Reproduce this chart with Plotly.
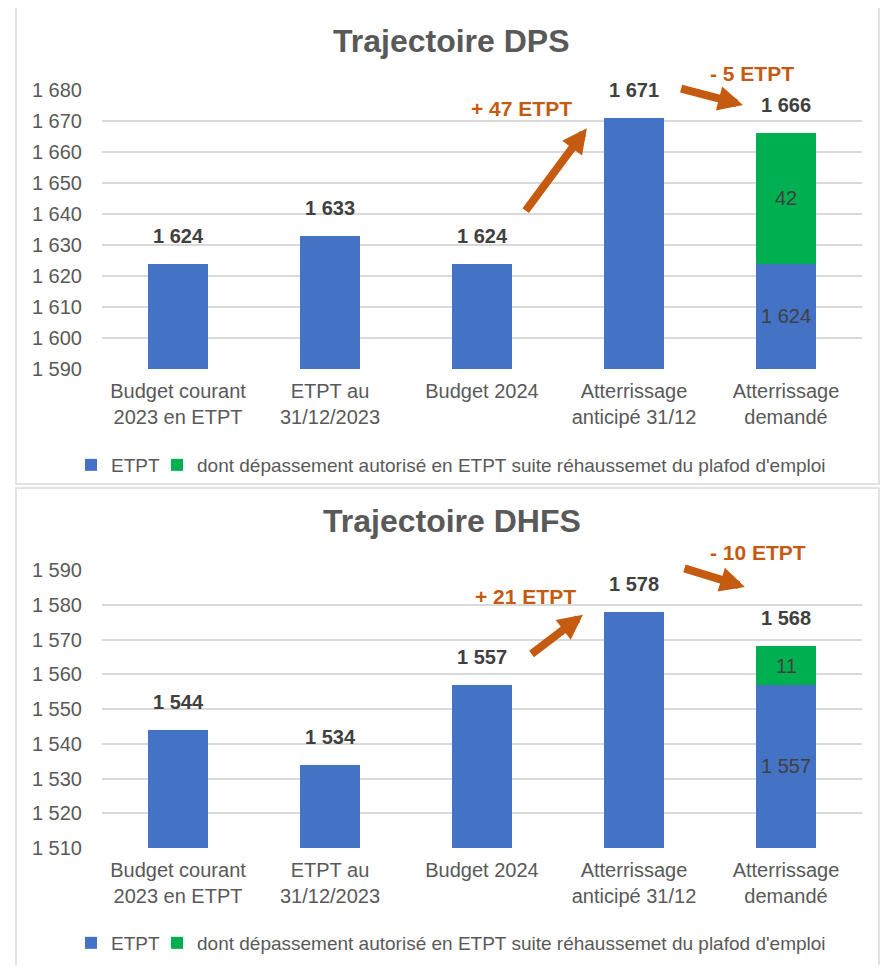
import plotly.graph_objects as go

# ---------------- data ----------------
categories = ["Budget courant<br>2023 en ETPT", "ETPT au<br>31/12/2023", "Budget 2024",
              "Atterrissage<br>anticipé 31/12", "Atterrissage<br>demandé"]
series_names = ["ETPT", "dont dépassement autorisé en ETPT suite réhaussemet du plafod d'emploi"]

dps_title = "Trajectoire DPS"
dps_etpt = [1624, 1633, 1624, 1671, 1624]
dps_extra = [None, None, None, None, 42]
dps_range = [1590, 1680]

dhfs_title = "Trajectoire DHFS"
dhfs_etpt = [1544, 1534, 1557, 1578, 1557]
dhfs_extra = [None, None, None, None, 11]
dhfs_range = [1510, 1590]

# ---------------- style ----------------
PAGE_OFF = 8          # default body margin of the page
W, H = 888 - 2 * PAGE_OFF, 973 - 2 * PAGE_OFF
BLUE = "#4472C4"
GREEN = "#00B050"
ORANGE = "#C55A11"
GRAY = "#595959"
DARK = "#404040"
GRID = "#D9D9D9"
FONT = "Liberation Sans, Arial, sans-serif"


def fy(px):
    return 1 - (px - PAGE_OFF) / H


def fx(px):
    return (px - PAGE_OFF) / W


def fmt(v):
    return f"{v:,}".replace(",", " ")


x_dom = [fx(102), fx(862)]
panels = [
    dict(title=dps_title, etpt=dps_etpt, extra=dps_extra, rng=dps_range,
         dom=[fy(369), fy(90)], title_y=fy(41), legend_y=fy(465),
         xa="x", ya="y", legend="legend",
         arrows=[((2.28, 1640.6), (2.69, 1667.7)), ((3.30, 1680.6), (3.717, 1675.2))],
         texts=[(2.26, 1673.9), (3.776, 1685.2)],
         box=(16, 6, 879, 484)),
    dict(title=dhfs_title, etpt=dhfs_etpt, extra=dhfs_extra, rng=dhfs_range,
         dom=[fy(848), fy(570)], title_y=fy(521), legend_y=fy(943),
         xa="x2", ya="y2", legend="legend2",
         arrows=[((2.316, 1565.5), (2.664, 1577.1)), ((3.322, 1590.6), (3.73, 1585.1))],
         texts=[(2.283, 1582.5), (3.816, 1594.9)],
         box=(16, 488, 879, 972)),
]


def to_paper_x(idx):
    return x_dom[0] + (idx + 0.5) / len(categories) * (x_dom[1] - x_dom[0])


def to_paper_y(p, v):
    d0, d1 = p["dom"]
    r0, r1 = p["rng"]
    return d0 + (v - r0) / (r1 - r0) * (d1 - d0)


fig = go.Figure()
annotations = []
shapes = []

for p in panels:
    fig.add_trace(go.Bar(x=categories, y=p["etpt"], name=series_names[0],
                         marker=dict(color=BLUE, line=dict(width=0)), legendwidth=41,
                         xaxis=p["xa"], yaxis=p["ya"], legend=p["legend"], hoverinfo="skip"))
    fig.add_trace(go.Bar(x=categories, y=p["extra"], name=series_names[1],
                         marker=dict(color=GREEN, line=dict(width=0)),
                         xaxis=p["xa"], yaxis=p["ya"], legend=p["legend"], hoverinfo="skip"))

    totals = [e + (x or 0) for e, x in zip(p["etpt"], p["extra"])]
    # total labels above bars
    for c, t in zip(categories, totals):
        annotations.append(dict(x=c, y=t, xref=p["xa"], yref=p["ya"], text=f"<b>{fmt(t)}</b>",
                                showarrow=False, yshift=28, xanchor="center", yanchor="middle",
                                font=dict(size=20, color=DARK, family=FONT)))
    # inside labels for stacked bars
    for c, e, x in zip(categories, p["etpt"], p["extra"]):
        if x:
            annotations.append(dict(x=c, y=(p["rng"][0] + e) / 2, xref=p["xa"], yref=p["ya"],
                                    text=fmt(e), showarrow=False, xanchor="center", yanchor="middle",
                                    font=dict(size=20, color=DARK, family=FONT)))
            annotations.append(dict(x=c, y=e + x / 2, xref=p["xa"], yref=p["ya"],
                                    text=fmt(x), showarrow=False, xanchor="center", yanchor="middle",
                                    font=dict(size=20, color=DARK, family=FONT)))
    # change arrows
    diffs = [p["etpt"][3] - p["etpt"][2], totals[4] - p["etpt"][3]]
    for (tail, head), (tx, ty), d in zip(p["arrows"], p["texts"], diffs):
        annotations.append(dict(x=head[0], y=head[1], ax=tail[0], ay=tail[1],
                                xref=p["xa"], yref=p["ya"], axref=p["xa"], ayref=p["ya"],
                                text="", showarrow=True, arrowhead=2, arrowsize=0.62,
                                arrowwidth=8, arrowcolor=ORANGE))
        sign = "+" if d >= 0 else "-"
        annotations.append(dict(x=to_paper_x(tx), y=to_paper_y(p, ty), xref="paper", yref="paper",
                                text=f"<b>{sign} {abs(d)} ETPT</b>", showarrow=False,
                                xanchor="center", yanchor="middle",
                                font=dict(size=21, color=ORANGE, family=FONT)))
    # title
    annotations.append(dict(x=fx(452), y=p["title_y"], xref="paper", yref="paper",
                            text=f"<b>{p['title']}</b>", showarrow=False,
                            xanchor="center", yanchor="middle",
                            font=dict(size=32, color=GRAY, family=FONT)))
    x0, y0, x1, y1 = p["box"]
    shapes.append(dict(type="rect", xref="paper", yref="paper",
                       x0=fx(x0), x1=fx(x1), y0=fy(y1), y1=fy(y0),
                       line=dict(color=GRID, width=1.5), fillcolor="rgba(0,0,0,0)", layer="below"))

axis_common_x = dict(domain=x_dom, type="category", showgrid=False, showline=False,
                     ticks="", tickfont=dict(size=20, color=GRAY, family=FONT),
                     ticklabelstandoff=8, fixedrange=True, automargin=False)
axis_common_y = dict(dtick=10, tickformat=",d", showgrid=True, gridcolor=GRID, gridwidth=1.5,
                     zeroline=False, showline=False, ticks="",
                     tickfont=dict(size=20, color=GRAY, family=FONT),
                     ticklabelstandoff=19, fixedrange=True, automargin=False)

legend_common = dict(orientation="h", xanchor="left", x=fx(71), yanchor="middle",
                     font=dict(size=19, color=GRAY, family=FONT), bgcolor="rgba(0,0,0,0)",
                     itemclick=False, itemdoubleclick=False, traceorder="normal")

fig.update_layout(
    width=W, height=H, margin=dict(l=0, r=0, t=0, b=0, pad=0), autosize=False,
    paper_bgcolor="white", plot_bgcolor="white",
    barmode="stack", bargap=0.605, separators=", ",
    font=dict(family=FONT, color=GRAY),
    xaxis=dict(axis_common_x, anchor="y"),
    yaxis=dict(axis_common_y, domain=panels[0]["dom"], range=panels[0]["rng"], anchor="x"),
    xaxis2=dict(axis_common_x, anchor="y2"),
    yaxis2=dict(axis_common_y, domain=panels[1]["dom"], range=panels[1]["rng"], anchor="x2"),
    legend=dict(legend_common, y=panels[0]["legend_y"]),
    legend2=dict(legend_common, y=panels[1]["legend_y"]),
    annotations=annotations,
    shapes=shapes,
    showlegend=True,
)

fig.write_html("out.html", config={"displayModeBar": False})
